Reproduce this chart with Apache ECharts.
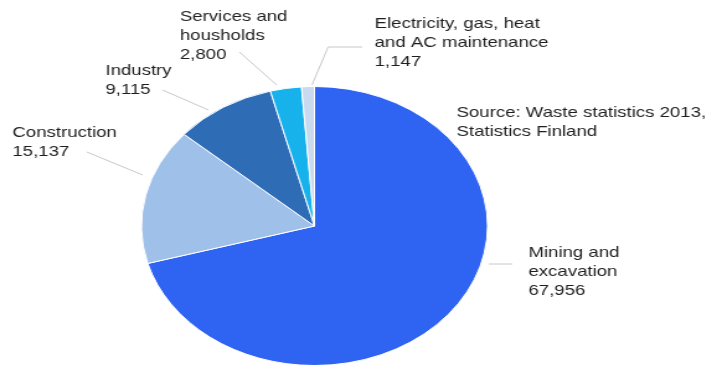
<!DOCTYPE html>
<html>
<head>
<meta charset="utf-8">
<script src="https://cdn.jsdelivr.net/npm/echarts@6/dist/echarts.min.js"></script>
<style>
  html, body { margin: 0; padding: 0; background: #fff; overflow: hidden; }
  /* the reference is stretched horizontally, so draw narrow and widen */
  #chart {
    width: 578px;
    height: 365px;
    transform: scaleX(1.2405);
    transform-origin: 0 0;
  }
</style>
</head>
<body>
<div id="chart"></div>
<script>
const categories = [
  "Mining and\nexcavation",
  "Construction",
  "Industry",
  "Services and\nhousholds",
  "Electricity, gas, heat\nand AC maintenance"
];
const values = [67956, 15137, 9115, 2800, 1147];
const colors = ["#2f63f2", "#9fc0e8", "#2e6db6", "#17b2ec", "#c9daef"];

// label top-left corner and its guide line (unstretched px)
const labelPos = {
  "Mining and\nexcavation": { at: [426, 243], line: [[394, 264], [413, 264]] },
  "Construction": { at: [10, 123], line: [[115, 175], [70, 152]] },
  "Industry": { at: [85, 61], line: [[168, 110], [131, 90]] },
  "Services and\nhousholds": { at: [145, 7], line: [[223, 85], [193, 52]] },
  "Electricity, gas, heat\nand AC maintenance": { at: [302, 14], line: [[251.5, 85], [264.5, 47], [292, 47]] }
};

const textFont = "Liberation Sans";
const chart = echarts.init(document.getElementById("chart"), null, { renderer: "canvas" });

const option = {
  animation: false,
  graphic: [
    {
      type: "text",
      left: 368,
      top: 103,
      style: {
        text: "Source: Waste statistics 2013,\nStatistics Finland",
        font: "15px " + textFont,
        fill: "#1f1f1f",
        lineHeight: 19
      }
    }
  ],
  series: [
    {
      type: "pie",
      center: [253.5, 226],
      radius: 139.5,
      startAngle: 90,
      clockwise: true,
      avoidLabelOverlap: false,
      data: categories.map((name, i) => ({
        name: name,
        value: values[i],
        itemStyle: { color: colors[i] }
      })),
      itemStyle: { borderColor: "#fff", borderWidth: 1 },
      label: {
        show: true,
        position: "outside",
        fontFamily: textFont,
        fontSize: 15,
        lineHeight: 19,
        color: "#1f1f1f",
        formatter: (p) => p.name + "\n" + p.value.toLocaleString("en-US")
      },
      labelLine: {
        show: true,
        length: 10,
        length2: 0,
        lineStyle: { color: "#c8c8c8", width: 1 }
      },
      labelLayout: (params) => {
        const key = params.text.split("\n").slice(0, -1).join("\n");
        const pos = labelPos[key];
        if (!pos) return {};
        return {
          x: pos.at[0],
          y: pos.at[1],
          align: "left",
          verticalAlign: "top",
          labelLinePoints: pos.line
        };
      }
    }
  ]
};

chart.setOption(option);
</script>
</body>
</html>
